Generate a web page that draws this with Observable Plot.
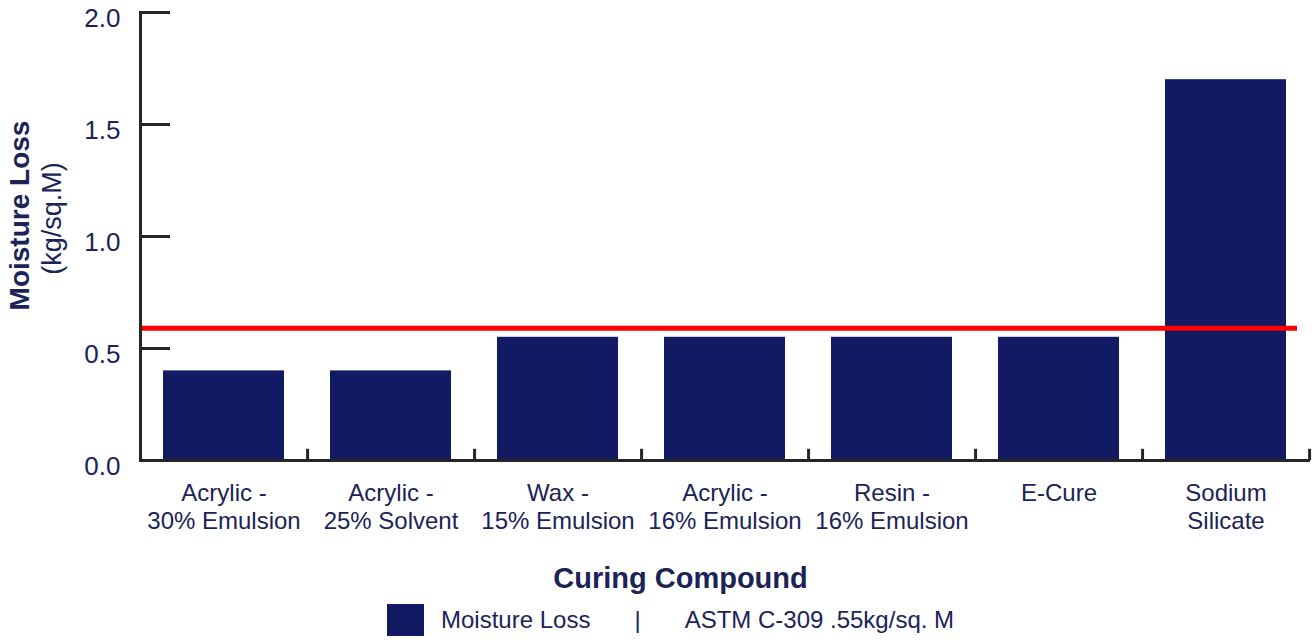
<!DOCTYPE html>
<html>
<head>
<meta charset="utf-8">
<script src="https://cdn.jsdelivr.net/npm/d3@7"></script>
<script src="https://cdn.jsdelivr.net/npm/@observablehq/plot@0.6"></script>
<style>
  html, body { margin: 0; padding: 0; background: #ffffff; }
  body { width: 1315px; height: 640px; overflow: hidden; font-family: "Liberation Sans", Arial, sans-serif; }
  #legend { display: flex; align-items: center; height: 40px; margin-left: 387px; color: #1c2357; font-size: 24px; }
  #legend .sw { width: 37px; height: 32px; background: #111a63; margin-right: 17px; }
  #legend .sep { margin: 0 44px; }
</style>
</head>
<body>
<div id="chart"></div>
<div id="legend"></div>
<script>
// ---- data ----
const categories = [
  "Acrylic -\n30% Emulsion",
  "Acrylic -\n25% Solvent",
  "Wax -\n15% Emulsion",
  "Acrylic -\n16% Emulsion",
  "Resin -\n16% Emulsion",
  "E-Cure",
  "Sodium\nSilicate"
];
const moistureLoss = [0.40, 0.40, 0.55, 0.55, 0.55, 0.55, 1.70];
const astmLimit = [0.59];
const yTicks = [0.0, 0.5, 1.0, 1.5, 2.0];
const xTitle = ["Curing Compound"];
const yTitle = ["Moisture Loss"];
const yUnit = ["(kg/sq.M)"];
const seriesName = "Moisture Loss";
const limitName = "ASTM C-309 .55kg/sq. M";

// ---- styles ----
const barColor = "#111a63";
const textColor = "#1c2357";
const axisColor = "#262626";
const W = 1315, H = 600;
const mL = 140, mR = 5, mT = 12, mB = 140;
const step = (W - mL - mR) / categories.length;

const data = categories.map((c, i) => ({category: c, value: moistureLoss[i]}));

const chart = Plot.plot({
  width: W,
  height: H,
  marginLeft: mL,
  marginRight: mR,
  marginTop: mT,
  marginBottom: mB,
  style: {fontFamily: "'Liberation Sans', Arial, sans-serif", color: textColor, background: "#ffffff", overflow: "visible"},
  x: {domain: categories, paddingInner: 0.275, paddingOuter: 0.1375, label: null},
  y: {domain: [0, 2], label: null},
  marks: [
    Plot.barY(data, {x: "category", y: "value", fill: barColor}),
    Plot.ruleY(astmLimit, {stroke: "#ff0000", strokeWidth: 5, insetRight: 13}),
    Plot.ruleY([0], {stroke: axisColor, strokeWidth: 3}),
    Plot.frame({anchor: "left", stroke: axisColor, strokeWidth: 3}),
    Plot.ruleX(categories, {x: d => d, dx: step / 2, y1: 0, y2: 0.05, stroke: axisColor, strokeWidth: 3}),
    Plot.axisY(yTicks, {tickSize: -30, text: null, strokeWidth: 3, stroke: axisColor, label: null}),
    Plot.axisY(yTicks, {tickSize: 0, tickPadding: 20, fontSize: 26, dy: 6, fill: textColor, tickFormat: d3.format(".1f"), label: null}),
    Plot.axisX({tickSize: 0, tickPadding: 20, fontSize: 24, lineHeight: 1.18, fill: textColor, label: null}),
    Plot.text(xTitle, {frameAnchor: "bottom", dx: -45, dy: 127, fontSize: 29, fontWeight: "bold", fill: textColor}),
    Plot.text(yTitle, {frameAnchor: "left", textAnchor: "middle", dx: -120, dy: -21, rotate: -90, fontSize: 28, fontWeight: "bold", fill: textColor}),
    Plot.text(yUnit, {frameAnchor: "left", textAnchor: "middle", dx: -88, dy: -18, rotate: -90, fontSize: 27, fill: textColor})
  ]
});
document.getElementById("chart").appendChild(chart);

const legend = document.getElementById("legend");
legend.innerHTML = `<div class="sw"></div><span>${seriesName}</span><span class="sep">|</span><span>${limitName}</span>`;
</script>
</body>
</html>
